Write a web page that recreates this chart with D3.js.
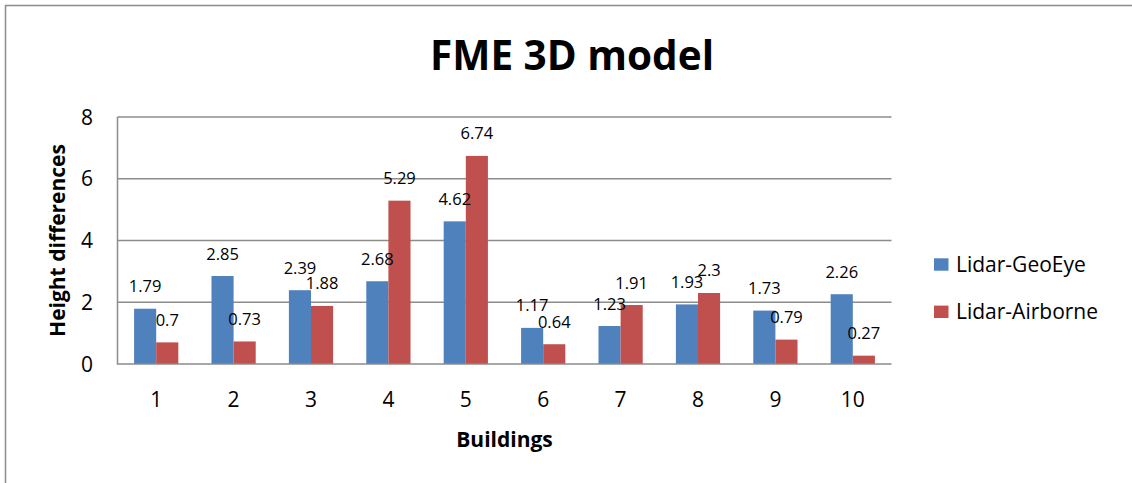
<!DOCTYPE html>
<html>
<head>
<meta charset="utf-8">
<style>
    body { margin: 0; background: #fff; }
    svg { display: block; font-family: "Open Sans", sans-serif; }
    .grid line { stroke: #8c8c8c; stroke-width: 1.5; }
    .frame { stroke: #8c8c8c; stroke-width: 1.5; fill: none; }
</style>
</head>
<body>
<script src="https://d3js.org/d3.v7.min.js"></script>
<script>
    // chart data
    var buildings = ["1", "2", "3", "4", "5", "6", "7", "8", "9", "10"];
    var seriesNames = ["Lidar-GeoEye", "Lidar-Airborne"];
    var geoEye = [1.79, 2.85, 2.39, 2.68, 4.62, 1.17, 1.23, 1.93, 1.73, 2.26];
    var airborne = [0.7, 0.73, 1.88, 5.29, 6.74, 0.64, 1.91, 2.3, 0.79, 0.27];
    var yTicks = [0, 2, 4, 6, 8];
    var colors = ["#4f81bd", "#c0504d"];

    var width = 1132, height = 483;
    var plot = { left: 117.5, right: 891.5, top: 117, bottom: 364 };

    var svg = d3.select("body").append("svg")
        .attr("width", width)
        .attr("height", height);

    // outer chart border (only left and top are in view)
    svg.append("path")
        .attr("class", "frame")
        .attr("d", "M5.5," + height + "V5.5H" + width);

    var y = d3.scaleLinear().domain([0, 8]).range([plot.bottom, plot.top]);

    // gap width 150% -> outer padding is half of inner padding
    var x0 = d3.scaleBand()
        .domain(buildings)
        .range([plot.left, plot.right])
        .paddingInner(1.5 / 3.5)
        .paddingOuter(0.75 / 3.5);

    var x1 = d3.scaleBand()
        .domain(seriesNames)
        .range([0, x0.bandwidth()]);

    // gridlines
    svg.append("g")
        .attr("class", "grid")
        .selectAll("line")
        .data(yTicks.filter(function(d) { return d > 0; }))
        .enter().append("line")
        .attr("x1", plot.left)
        .attr("x2", plot.right)
        .attr("y1", function(d) { return y(d); })
        .attr("y2", function(d) { return y(d); });

    var rows = buildings.map(function(b, i) {
        return { building: b, values: [geoEye[i], airborne[i]] };
    });

    var groups = svg.append("g")
        .selectAll("g")
        .data(rows)
        .enter().append("g")
        .attr("transform", function(d) { return "translate(" + x0(d.building) + ",0)"; });

    groups.selectAll("rect")
        .data(function(d) { return d.values.map(function(v, j) { return { name: seriesNames[j], value: v, idx: j }; }); })
        .enter().append("rect")
        .attr("x", function(d) { return x1(d.name); })
        .attr("width", x1.bandwidth())
        .attr("y", function(d) { return y(d.value); })
        .attr("height", function(d) { return y(0) - y(d.value); })
        .attr("fill", function(d) { return colors[d.idx]; });

    groups.selectAll("text")
        .data(function(d) { return d.values.map(function(v, j) { return { name: seriesNames[j], value: v }; }); })
        .enter().append("text")
        .attr("x", function(d) { return x1(d.name) + x1.bandwidth() / 2; })
        .attr("y", function(d) { return y(d.value) - 16.5; })
        .attr("text-anchor", "middle")
        .attr("font-size", 16.5)
        .attr("fill", "#000")
        .text(function(d) { return d.value; });

    // axes lines
    svg.append("path")
        .attr("class", "frame")
        .attr("d", "M" + plot.left + "," + plot.top + "V" + plot.bottom + "H" + plot.right);

    // y tick labels
    svg.append("g")
        .selectAll("text")
        .data(yTicks)
        .enter().append("text")
        .attr("x", 93)
        .attr("y", function(d) { return y(d); })
        .attr("dy", "0.36em")
        .attr("text-anchor", "end")
        .attr("font-size", 21)
        .text(function(d) { return d; });

    // x tick labels
    svg.append("g")
        .selectAll("text")
        .data(buildings)
        .enter().append("text")
        .attr("x", function(d) { return x0(d) + x0.bandwidth() / 2; })
        .attr("y", 407)
        .attr("text-anchor", "middle")
        .attr("font-size", 21)
        .text(function(d) { return d; });

    // titles
    svg.append("text")
        .attr("x", 572)
        .attr("y", 70)
        .attr("text-anchor", "middle")
        .attr("font-size", 40.5)
        .attr("font-weight", "bold")
        .text("FME 3D model");

    svg.append("text")
        .attr("x", (plot.left + plot.right) / 2)
        .attr("y", 447)
        .attr("text-anchor", "middle")
        .attr("font-size", 21)
        .attr("font-weight", "bold")
        .text("Buildings");

    svg.append("text")
        .attr("transform", "translate(65," + (plot.top + plot.bottom) / 2 + ") rotate(-90)")
        .attr("text-anchor", "middle")
        .attr("font-size", 21)
        .attr("font-weight", "bold")
        .text("Height differences");

    // legend
    var legend = svg.append("g")
        .selectAll("g")
        .data(seriesNames)
        .enter().append("g")
        .attr("transform", function(d, i) { return "translate(934," + (264.5 + i * 47.3) + ")"; });

    legend.append("rect")
        .attr("x", 0)
        .attr("y", -6.2)
        .attr("width", 14.5)
        .attr("height", 12.4)
        .attr("fill", function(d, i) { return colors[i]; });

    legend.append("text")
        .attr("x", 22)
        .attr("dy", "0.36em")
        .attr("font-size", 21)
        .text(function(d) { return d; });
</script>
</body>
</html>
